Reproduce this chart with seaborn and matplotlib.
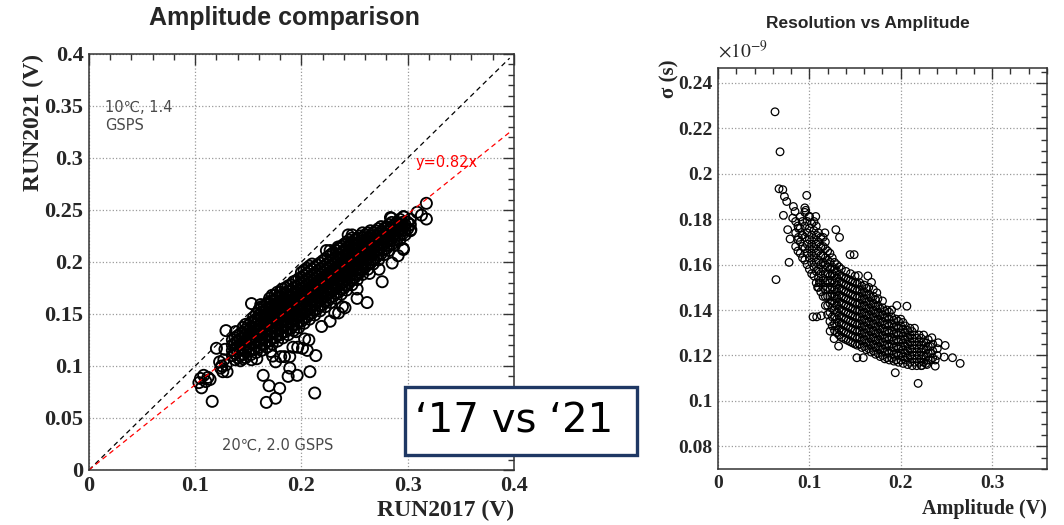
import pandas as pd
import seaborn as sns
import matplotlib.pyplot as plt
from matplotlib.patches import Rectangle
from matplotlib.ticker import MultipleLocator, FuncFormatter

# ---- left panel: amplitude RUN2017 vs RUN2021 (V), dense band read column by column
band_left_a = {
    0.135: [0.110, 0.115, 0.120, 0.125],
    0.140: [0.108, 0.114, 0.119, 0.124, 0.129],
    0.145: [0.111, 0.117, 0.122, 0.127, 0.132, 0.137],
    0.150: [0.114, 0.119, 0.124, 0.129, 0.134, 0.139],
    0.155: [0.116, 0.122, 0.127, 0.132, 0.137, 0.142, 0.147],
    0.160: [0.118, 0.124, 0.129, 0.134, 0.139, 0.144, 0.149, 0.154],
    0.165: [0.121, 0.127, 0.132, 0.137, 0.142, 0.147, 0.152, 0.157],
    0.170: [0.124, 0.130, 0.135, 0.140, 0.145, 0.150, 0.155, 0.160, 0.165],
    0.175: [0.127, 0.133, 0.138, 0.143, 0.148, 0.153, 0.158, 0.163, 0.168],
    0.180: [0.130, 0.136, 0.141, 0.146, 0.151, 0.156, 0.161, 0.166, 0.171],
    0.185: [0.133, 0.139, 0.144, 0.149, 0.154, 0.159, 0.164, 0.169, 0.175],
    0.190: [0.136, 0.142, 0.147, 0.152, 0.157, 0.162, 0.167, 0.172, 0.178],
    0.195: [0.140, 0.146, 0.151, 0.156, 0.161, 0.166, 0.171, 0.176, 0.182],
    0.200: [0.143, 0.149, 0.154, 0.159, 0.164, 0.169, 0.174, 0.179, 0.185, 0.190],
    0.205: [0.147, 0.153, 0.158, 0.163, 0.168, 0.173, 0.178, 0.183, 0.189, 0.194],
    0.210: [0.151, 0.157, 0.162, 0.167, 0.172, 0.177, 0.182, 0.187, 0.193, 0.198],
    0.215: [0.155, 0.161, 0.166, 0.171, 0.176, 0.181, 0.186, 0.191, 0.197],
    0.220: [0.159, 0.165, 0.170, 0.175, 0.180, 0.185, 0.190, 0.195, 0.201],
    0.225: [0.163, 0.169, 0.174, 0.179, 0.184, 0.189, 0.194, 0.199, 0.205],
    0.230: [0.167, 0.173, 0.178, 0.183, 0.188, 0.193, 0.198, 0.203, 0.209],
    0.235: [0.171, 0.177, 0.182, 0.187, 0.192, 0.197, 0.202, 0.207, 0.213],
    0.240: [0.175, 0.181, 0.186, 0.191, 0.196, 0.201, 0.206, 0.211, 0.217],
    0.245: [0.180, 0.186, 0.191, 0.196, 0.201, 0.206, 0.211, 0.216, 0.221],
    0.250: [0.185, 0.191, 0.196, 0.201, 0.206, 0.211, 0.216, 0.221],
    0.255: [0.190, 0.195, 0.200, 0.205, 0.210, 0.215, 0.220, 0.225],
    0.260: [0.195, 0.200, 0.205, 0.210, 0.215, 0.220, 0.226],
    0.265: [0.199, 0.205, 0.210, 0.215, 0.220, 0.225, 0.230],
    0.270: [0.204, 0.210, 0.215, 0.220, 0.225, 0.230],
    0.275: [0.208, 0.214, 0.219, 0.224, 0.229, 0.234],
    0.280: [0.213, 0.219, 0.224, 0.229, 0.234],
    0.285: [0.217, 0.223, 0.228, 0.233, 0.238],
    0.290: [0.222, 0.228, 0.233, 0.238],
    0.295: [0.227, 0.233, 0.238],
    0.300: [0.232, 0.238],
}
band_left_b = {
    0.1375: [0.106, 0.112, 0.117, 0.122, 0.127],
    0.1425: [0.105, 0.110, 0.116, 0.121, 0.126, 0.131],
    0.1475: [0.108, 0.114, 0.120, 0.125, 0.130, 0.135, 0.140],
    0.1525: [0.111, 0.116, 0.122, 0.127, 0.132, 0.137, 0.142],
    0.1575: [0.113, 0.119, 0.125, 0.130, 0.135, 0.140, 0.145, 0.150],
    0.1625: [0.115, 0.121, 0.127, 0.132, 0.137, 0.142, 0.147, 0.152, 0.157],
    0.1675: [0.118, 0.124, 0.130, 0.135, 0.140, 0.145, 0.150, 0.155, 0.160],
    0.1725: [0.121, 0.127, 0.133, 0.138, 0.143, 0.148, 0.153, 0.158, 0.163, 0.168],
    0.1775: [0.124, 0.130, 0.136, 0.141, 0.146, 0.151, 0.156, 0.161, 0.166, 0.171],
    0.1825: [0.127, 0.133, 0.139, 0.144, 0.149, 0.154, 0.159, 0.164, 0.169, 0.174],
    0.1875: [0.130, 0.136, 0.142, 0.147, 0.152, 0.157, 0.162, 0.167, 0.172, 0.177],
    0.1925: [0.134, 0.140, 0.145, 0.150, 0.155, 0.160, 0.165, 0.170, 0.175, 0.181],
    0.1975: [0.137, 0.143, 0.148, 0.153, 0.158, 0.163, 0.168, 0.173, 0.178, 0.184],
    0.2025: [0.141, 0.146, 0.151, 0.156, 0.161, 0.166, 0.171, 0.176, 0.181, 0.187, 0.192],
    0.2075: [0.145, 0.150, 0.155, 0.160, 0.165, 0.170, 0.175, 0.180, 0.185, 0.191, 0.196],
    0.2125: [0.149, 0.154, 0.159, 0.164, 0.169, 0.174, 0.179, 0.184, 0.189, 0.195],
    0.2175: [0.153, 0.158, 0.163, 0.168, 0.173, 0.178, 0.183, 0.188, 0.193, 0.199],
    0.2225: [0.157, 0.162, 0.167, 0.172, 0.177, 0.182, 0.187, 0.192, 0.197, 0.203],
    0.2275: [0.161, 0.166, 0.171, 0.176, 0.181, 0.186, 0.191, 0.196, 0.201, 0.207],
    0.2325: [0.165, 0.170, 0.175, 0.180, 0.185, 0.190, 0.195, 0.200, 0.205, 0.211],
    0.2375: [0.169, 0.174, 0.179, 0.184, 0.189, 0.194, 0.199, 0.204, 0.209, 0.215],
    0.2425: [0.173, 0.178, 0.183, 0.188, 0.193, 0.198, 0.203, 0.208, 0.213, 0.219],
    0.2475: [0.178, 0.183, 0.188, 0.193, 0.198, 0.203, 0.208, 0.213, 0.218, 0.223],
    0.2525: [0.183, 0.188, 0.193, 0.198, 0.203, 0.208, 0.213, 0.218, 0.223],
    0.2575: [0.188, 0.193, 0.198, 0.203, 0.208, 0.213, 0.218, 0.223, 0.228],
    0.2625: [0.193, 0.198, 0.203, 0.208, 0.213, 0.218, 0.223, 0.228],
    0.2675: [0.198, 0.203, 0.208, 0.213, 0.218, 0.223, 0.228],
    0.2725: [0.202, 0.207, 0.212, 0.217, 0.222, 0.227, 0.232],
    0.2775: [0.207, 0.212, 0.217, 0.222, 0.227, 0.232],
    0.2825: [0.211, 0.216, 0.221, 0.226, 0.231, 0.236],
    0.2875: [0.216, 0.221, 0.226, 0.231, 0.236],
    0.2925: [0.221, 0.226, 0.231, 0.236, 0.241],
    0.2975: [0.226, 0.231, 0.236],
    0.3025: [0.230, 0.236, 0.241],
}
out17 = [0.116, 0.106, 0.1035, 0.108, 0.114, 0.110, 0.112, 0.105,
         0.128, 0.125, 0.126, 0.130, 0.123, 0.127, 0.124, 0.129,
         0.138, 0.153, 0.168, 0.159, 0.129, 0.120,
         0.164, 0.1695, 0.1795, 0.167, 0.1757,
         0.189, 0.1875, 0.196, 0.208, 0.2125, 0.2135, 0.2055, 0.207, 0.1965,
         0.189, 0.1805, 0.1757, 0.171, 0.158, 0.153, 0.145, 0.184, 0.173,
         0.201, 0.192, 0.203, 0.195,
         0.227, 0.219, 0.235, 0.241, 0.2524, 0.2618, 0.2386, 0.2314, 0.2524,
         0.264, 0.276, 0.273, 0.2854, 0.291, 0.2957,
         0.244, 0.2345, 0.2235, 0.2838, 0.2964, 0.3176, 0.309, 0.3176, 0.313,
         0.296, 0.2846, 0.303, 0.296, 0.1617, 0.2365, 0.227, 0.2478]
out21 = [0.066, 0.079, 0.084, 0.091, 0.087, 0.085, 0.089, 0.088,
         0.116, 0.100, 0.0945, 0.0945, 0.104, 0.106, 0.098, 0.101,
         0.133, 0.160, 0.159, 0.144, 0.134, 0.117,
         0.091, 0.081, 0.0785, 0.065, 0.069,
         0.098, 0.090, 0.091, 0.0945, 0.074, 0.110, 0.115, 0.125, 0.118,
         0.109, 0.109, 0.104, 0.114, 0.107, 0.106, 0.107, 0.109, 0.1095,
         0.117, 0.118, 0.126, 0.133,
         0.143, 0.138, 0.151, 0.156, 0.165, 0.161, 0.157, 0.151, 0.174,
         0.189, 0.181, 0.193, 0.199, 0.206, 0.213,
         0.226, 0.2144, 0.211, 0.2427, 0.2433, 0.2564, 0.2478, 0.2413, 0.245,
         0.2436, 0.242, 0.231, 0.212, 0.159, 0.213, 0.211, 0.226]

# ---- right panel: sigma (x1e-9 s) vs amplitude (V)
band_right_a = {
    0.085: [0.168, 0.174, 0.179],
    0.090: [0.165, 0.170, 0.176, 0.181],
    0.095: [0.162, 0.167, 0.172, 0.177, 0.185],
    0.100: [0.158, 0.163, 0.167, 0.171, 0.176, 0.181],
    0.105: [0.155, 0.159, 0.163, 0.167, 0.171, 0.175, 0.179],
    0.110: [0.150, 0.154, 0.158, 0.162, 0.166, 0.170, 0.174],
    0.115: [0.146, 0.150, 0.154, 0.158, 0.161, 0.164, 0.168, 0.172],
    0.120: [0.138, 0.142, 0.146, 0.150, 0.153, 0.156, 0.159, 0.162, 0.166],
    0.125: [0.133, 0.137, 0.141, 0.144, 0.147, 0.150, 0.153, 0.156, 0.159, 0.163],
    0.130: [0.130, 0.133, 0.136, 0.139, 0.142, 0.145, 0.148, 0.151, 0.154, 0.157, 0.160],
    0.135: [0.128, 0.131, 0.134, 0.137, 0.140, 0.143, 0.146, 0.149, 0.152, 0.155, 0.158],
    0.140: [0.127, 0.130, 0.133, 0.136, 0.139, 0.142, 0.145, 0.148, 0.151, 0.154, 0.157],
    0.145: [0.126, 0.129, 0.132, 0.135, 0.138, 0.141, 0.144, 0.147, 0.150, 0.153, 0.156],
    0.150: [0.125, 0.128, 0.131, 0.134, 0.137, 0.140, 0.143, 0.146, 0.149, 0.152, 0.155],
    0.155: [0.125, 0.128, 0.131, 0.134, 0.137, 0.140, 0.143, 0.146, 0.149, 0.152],
    0.160: [0.124, 0.127, 0.130, 0.133, 0.136, 0.139, 0.142, 0.145, 0.148, 0.151],
    0.165: [0.123, 0.126, 0.129, 0.132, 0.135, 0.138, 0.141, 0.144, 0.147, 0.150],
    0.170: [0.122, 0.125, 0.128, 0.131, 0.134, 0.137, 0.140, 0.143, 0.146, 0.149],
    0.175: [0.121, 0.124, 0.127, 0.130, 0.133, 0.136, 0.139, 0.142, 0.145],
    0.180: [0.120, 0.123, 0.126, 0.129, 0.132, 0.135, 0.138, 0.141, 0.144],
    0.185: [0.119, 0.122, 0.125, 0.128, 0.131, 0.134, 0.137, 0.140],
    0.190: [0.119, 0.122, 0.125, 0.128, 0.131, 0.134, 0.137, 0.140],
    0.195: [0.118, 0.121, 0.124, 0.127, 0.130, 0.133, 0.136],
    0.200: [0.118, 0.121, 0.124, 0.127, 0.130, 0.133, 0.136],
    0.205: [0.118, 0.121, 0.124, 0.127, 0.130, 0.133],
    0.210: [0.117, 0.120, 0.123, 0.126, 0.129, 0.132],
    0.215: [0.117, 0.120, 0.123, 0.126, 0.129, 0.132],
    0.220: [0.117, 0.120, 0.123, 0.126, 0.129],
    0.225: [0.117, 0.120, 0.123, 0.126, 0.129],
    0.230: [0.118, 0.121, 0.124, 0.127],
    0.235: [0.119, 0.122, 0.125],
    0.240: [0.120, 0.123],
}
band_right_b = {
    0.0875: [0.166, 0.171, 0.177],
    0.0925: [0.163, 0.168, 0.173, 0.179],
    0.0975: [0.160, 0.165, 0.169, 0.174, 0.179],
    0.1025: [0.156, 0.161, 0.165, 0.169, 0.173, 0.178],
    0.1075: [0.152, 0.157, 0.161, 0.165, 0.169, 0.173, 0.177],
    0.1125: [0.148, 0.152, 0.156, 0.160, 0.164, 0.168, 0.172],
    0.1175: [0.142, 0.146, 0.149, 0.152, 0.156, 0.160, 0.163, 0.167, 0.170],
    0.1225: [0.135, 0.139, 0.143, 0.146, 0.149, 0.152, 0.155, 0.158, 0.161, 0.165],
    0.1275: [0.131, 0.134, 0.137, 0.140, 0.143, 0.146, 0.149, 0.152, 0.155, 0.158, 0.161],
    0.1325: [0.129, 0.1315, 0.1345, 0.1375, 0.1405, 0.1435, 0.1465, 0.1495, 0.1525, 0.1555, 0.159],
    0.1375: [0.1275, 0.1305, 0.1335, 0.1365, 0.1395, 0.1425, 0.1455, 0.1485, 0.1515, 0.1545],
    0.1425: [0.1265, 0.1295, 0.1325, 0.1355, 0.1385, 0.1415, 0.1445, 0.1475, 0.1505, 0.1535],
    0.1475: [0.1255, 0.1285, 0.1315, 0.1345, 0.1375, 0.1405, 0.1435, 0.1465, 0.1495, 0.1525],
    0.1525: [0.1245, 0.1275, 0.1305, 0.1335, 0.1365, 0.1395, 0.1425, 0.1455, 0.1485, 0.1515],
    0.1575: [0.1235, 0.1265, 0.1295, 0.1325, 0.1355, 0.1385, 0.1415, 0.1445, 0.1475, 0.1505],
    0.1625: [0.1225, 0.1255, 0.1285, 0.1315, 0.1345, 0.1375, 0.1405, 0.1435, 0.1465, 0.1495],
    0.1675: [0.1215, 0.1245, 0.1275, 0.1305, 0.1335, 0.1365, 0.1395, 0.1425, 0.1455],
    0.1725: [0.1205, 0.1235, 0.1265, 0.1295, 0.1325, 0.1355, 0.1385, 0.1415, 0.1445],
    0.1775: [0.1195, 0.1225, 0.1255, 0.1285, 0.1315, 0.1345, 0.1375, 0.1405],
    0.1825: [0.1185, 0.1215, 0.1245, 0.1275, 0.1305, 0.1335, 0.1365, 0.1395],
    0.1875: [0.118, 0.121, 0.124, 0.127, 0.130, 0.133, 0.136, 0.139],
    0.1925: [0.1175, 0.1205, 0.1235, 0.1265, 0.1295, 0.1325, 0.1355],
    0.1975: [0.117, 0.120, 0.123, 0.126, 0.129, 0.132, 0.135],
    0.2025: [0.1165, 0.1195, 0.1225, 0.1255, 0.1285, 0.1315, 0.1345],
    0.2075: [0.116, 0.119, 0.122, 0.125, 0.128, 0.131],
    0.2125: [0.1155, 0.1185, 0.1215, 0.1245, 0.1275, 0.1305],
    0.2175: [0.1155, 0.1185, 0.1215, 0.1245, 0.1275],
    0.2225: [0.1155, 0.1185, 0.1215, 0.1245, 0.1275],
    0.2275: [0.1165, 0.1195, 0.1225, 0.1255],
    0.2325: [0.118, 0.121, 0.124],
}
out_amp = [0.0624, 0.0679, 0.0668, 0.0709, 0.0727, 0.0752, 0.0716, 0.0825, 0.0843,
           0.0818, 0.0763, 0.0789, 0.0971, 0.0960, 0.095, 0.100, 0.107, 0.088,
           0.092, 0.088, 0.117, 0.129, 0.133, 0.1445, 0.149,
           0.0635, 0.0778, 0.104, 0.108, 0.113, 0.1227, 0.127, 0.132, 0.152,
           0.159, 0.194, 0.219, 0.265, 0.2566, 0.2486, 0.2475, 0.241, 0.234,
           0.2377, 0.2377, 0.2286, 0.223, 0.2067, 0.1957, 0.164, 0.168, 0.1738,
           0.1537, 0.109, 0.111]
out_sigma = [0.2273, 0.2097, 0.1934, 0.1930, 0.190, 0.1878, 0.1817, 0.1856, 0.1834,
             0.1805, 0.1754, 0.1713, 0.1905, 0.1839, 0.183, 0.1813, 0.1812, 0.176,
             0.173, 0.172, 0.174, 0.1754, 0.172, 0.1644, 0.1644,
             0.1534, 0.161, 0.137, 0.137, 0.1375, 0.1307, 0.1274, 0.1241, 0.119,
             0.119, 0.1124, 0.1077, 0.1165, 0.119, 0.1244, 0.1193, 0.1256, 0.1278,
             0.118, 0.1153, 0.116, 0.1156, 0.1417, 0.142, 0.155, 0.1522, 0.1476,
             0.1552, 0.150, 0.152]

fit_slope = 0.82


def to_frame(bands, xs, ys, xname, yname):
    rows = [(x, y) for band in bands for x, col in band.items() for y in col]
    rows += list(zip(xs, ys))
    return pd.DataFrame(rows, columns=[xname, yname])


left_df = to_frame([band_left_a, band_left_b], out17, out21, "run2017", "run2021")
right_df = to_frame([band_right_a, band_right_b], out_amp, out_sigma, "amp", "sigma")

sns.set_style("white")
plt.rcParams["font.family"] = ["DejaVu Sans"]
plt.rcParams["mathtext.fontset"] = "stix"
serif = {"family": "Liberation Serif", "weight": "bold"}

fig = plt.figure(figsize=(10.64, 5.25), dpi=100)
ax1 = fig.add_axes([0.0836, 0.1048, 0.3994, 0.7924])
ax2 = fig.add_axes([0.6748, 0.1067, 0.3092, 0.7638])

sns.scatterplot(data=left_df, x="run2017", y="run2021", ax=ax1, s=64,
                facecolors="none", edgecolor="black", linewidth=1.35, legend=False)
sns.scatterplot(data=right_df, x="amp", y="sigma", ax=ax2, s=30,
                facecolors="none", edgecolor="black", linewidth=0.9, legend=False)

ax1.plot([0, 0.396], [0, 0.396], color="black", ls=(0, (4, 3)), lw=0.9)
ax1.plot([0, 0.396], [0, 0.396 * fit_slope], color="red", ls=(0, (4, 3)), lw=0.9)

ax1.set_xlim(0, 0.4)
ax1.set_ylim(0, 0.4)
ax2.set_xlim(0, 0.36)
ax2.set_ylim(0.07, 0.2466)

fmt = FuncFormatter(lambda v, p: f"{v:g}")
for ax, xmaj, xmin, ymaj, ymin, fs in [(ax1, 0.1, 0.02, 0.05, 0.01, 16),
                                       (ax2, 0.1, 0.02, 0.02, 0.005, 14)]:
    ax.xaxis.set_major_locator(MultipleLocator(xmaj))
    ax.xaxis.set_minor_locator(MultipleLocator(xmin))
    ax.yaxis.set_major_locator(MultipleLocator(ymaj))
    ax.yaxis.set_minor_locator(MultipleLocator(ymin))
    ax.xaxis.set_major_formatter(fmt)
    ax.yaxis.set_major_formatter(fmt)
    ax.tick_params(which="both", direction="in", top=True, right=True,
                   color="#333333", width=1)
    ax.tick_params(which="major", length=8, pad=4)
    ax.tick_params(which="minor", length=4)
    for lab in ax.get_xticklabels() + ax.get_yticklabels():
        lab.set_fontfamily(serif["family"])
        lab.set_fontweight("bold")
        lab.set_fontsize(fs)
    ax.grid(which="major", ls=":", color="#9a9a9a", lw=0.9)
    for sp in ax.spines.values():
        sp.set_color("#333333")
        sp.set_linewidth(1.1)

ax1.set_xlabel("RUN2017 (V)", loc="right", fontdict=serif, fontsize=17)
ax1.set_ylabel("RUN2021 (V)", loc="top", fontdict=serif, fontsize=17)
ax1.xaxis.set_label_coords(1.0, -0.072)
ax1.yaxis.set_label_coords(-0.105, 1.0)

ax2.set_xlabel("Amplitude (V)", loc="right", fontdict=serif, fontsize=14.5)
ax2.set_ylabel("σ (s)", loc="top", fontdict=serif, fontsize=15)
ax2.xaxis.set_label_coords(1.0, -0.075)
ax2.yaxis.set_label_coords(-0.116, 1.02)
ax2.text(0.0, 1.015, r"$\times10^{-9}$", transform=ax2.transAxes,
         fontsize=14, va="bottom", ha="left")

ax1.text(0.015, 0.356, "10℃, 1.4\nGSPS", color="#4a4a4a", fontsize=10.5,
         va="top", ha="left", linespacing=1.25)
ax1.text(0.125, 0.024, "20℃, 2.0 GSPS", color="#4a4a4a", fontsize=10.5,
         va="center", ha="left")
ax1.text(0.307, 0.296, "y=0.82x", color="red", fontsize=10.5,
         va="center", ha="left")

fig.text(0.267, 0.952, "Amplitude comparison", fontsize=18, fontweight="bold",
         family="Liberation Sans", ha="center", va="baseline")
fig.text(0.816, 0.956, "Resolution vs Amplitude", fontsize=12.5, fontweight="bold",
         family="Liberation Sans", ha="center", va="center")

fig.patches.append(Rectangle((0.3806, 0.1333), 0.2181, 0.1296, transform=fig.transFigure,
                             facecolor="white", edgecolor="#1f3864", linewidth=2.4,
                             zorder=10))
fig.text(0.483, 0.198, "\u201817 vs \u201821", fontsize=29, color="black",
         ha="center", va="center", zorder=11)

fig.savefig("out.png", dpi=100, facecolor="white")
